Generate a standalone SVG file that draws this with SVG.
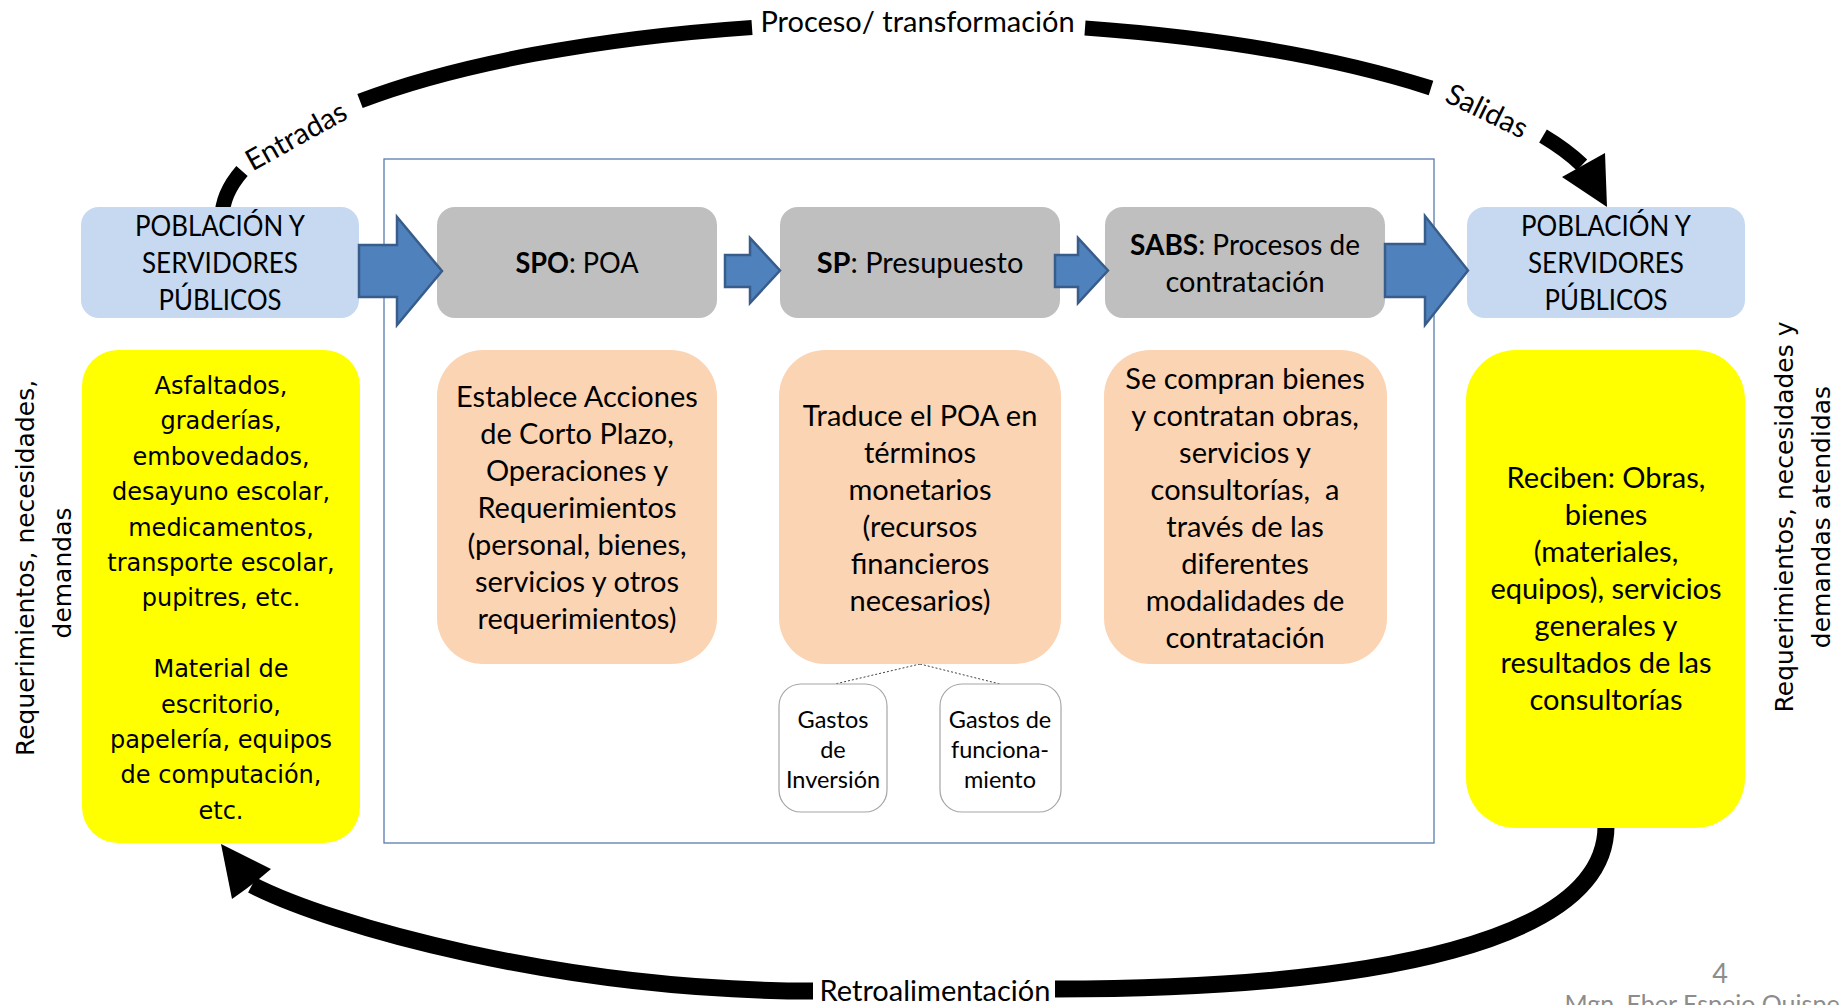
<svg xmlns="http://www.w3.org/2000/svg" width="1847" height="1005" viewBox="0 0 1847 1005">
<style>
.c{font-family:Lato,"Liberation Sans",sans-serif;font-size:29px;fill:#000;text-anchor:middle}
.s{font-family:Lato,"Liberation Sans",sans-serif;font-size:23.5px;fill:#000;text-anchor:middle}
.v{font-family:"DejaVu Sans",Verdana,sans-serif;font-size:24px;fill:#000;text-anchor:middle}
.r{font-family:"DejaVu Sans",Verdana,sans-serif;font-size:25px;fill:#000;text-anchor:middle}
.b{font-weight:bold}
.blue{fill:#c6d9f1}
.gray{fill:#bfbfbf}
.peach{fill:#fbd4b4}
.yel{fill:#ffff00}
.small{fill:#fff;stroke:#a6a6a6;stroke-width:1.2}
.band{fill:none;stroke:#000;stroke-linecap:butt}
.barrow{fill:#4f81bd;stroke:#385d8a;stroke-width:2.5;stroke-linejoin:miter}
.gr{font-family:Lato,"Liberation Sans",sans-serif;fill:#8c8c8c;text-anchor:middle}
</style>

<rect id="frame" x="384" y="159" width="1050" height="684" fill="none" stroke="#5a7bb0" stroke-width="1.3"/>

<g id="connectors">
  <path class="band" stroke-width="15" d="M222 218 A692 196 0 0 1 242 171"/>
  <path class="band" stroke-width="15" d="M360 101 A692 196 0 0 1 752 27.4"/>
  <path class="band" stroke-width="15" d="M1085 28 A692 196 0 0 1 1431 88"/>
  <path class="band" stroke-width="15" d="M1543 136 A692 196 0 0 1 1582 165"/>
  <polygon points="1562,177 1605,153 1607,207" fill="#000"/>
  <text class="c" transform="translate(296,136) rotate(-29)" y="10">Entradas</text>
  <text class="c" x="917.5" y="32">Proceso/ transformación</text>
  <text class="c" transform="translate(1487,111) rotate(26)" y="10">Salidas</text>

  <path class="band" stroke-width="17" d="M1606 826 C1606 940 1380 989 1055 989"/>
  <path class="band" stroke-width="17" d="M813 991 C560 991 330 925 252 885"/>
  <polygon points="221,844 271,869 259,879 246,889 232,899" fill="#000"/>
  <text class="c" x="935" y="1001">Retroalimentación</text>

  <path d="M920 664 L835 684 M920 664 L1000 684" stroke="#404040" stroke-width="1" stroke-dasharray="2,2" fill="none"/>
</g>

<g id="node-poblacion-in">
  <rect class="blue" x="81" y="207" width="278" height="111" rx="18"/>
  <text class="c" x="220" y="236" textLength="170" lengthAdjust="spacingAndGlyphs">POBLACIÓN Y</text>
  <text class="c" x="220" y="273" textLength="156" lengthAdjust="spacingAndGlyphs">SERVIDORES</text>
  <text class="c" x="220" y="310" textLength="123" lengthAdjust="spacingAndGlyphs">PÚBLICOS</text>
</g>

<g id="node-spo">
  <rect class="gray" x="437" y="207" width="280" height="111" rx="18"/>
  <text class="c" x="577" y="273" textLength="123" lengthAdjust="spacingAndGlyphs"><tspan class="b">SPO</tspan>: POA</text>
</g>

<g id="node-sp">
  <rect class="gray" x="780" y="207" width="280" height="111" rx="18"/>
  <text class="c" x="920" y="273"><tspan class="b">SP</tspan>: Presupuesto</text>
</g>

<g id="node-sabs">
  <rect class="gray" x="1105" y="207" width="280" height="111" rx="18"/>
  <text class="c" x="1245" y="255" textLength="230" lengthAdjust="spacingAndGlyphs"><tspan class="b">SABS</tspan>: Procesos de</text>
  <text class="c" x="1245" y="292">contratación</text>
</g>

<g id="node-poblacion-out">
  <rect class="blue" x="1467" y="207" width="278" height="111" rx="18"/>
  <text class="c" x="1606" y="236" textLength="170" lengthAdjust="spacingAndGlyphs">POBLACIÓN Y</text>
  <text class="c" x="1606" y="273" textLength="156" lengthAdjust="spacingAndGlyphs">SERVIDORES</text>
  <text class="c" x="1606" y="310" textLength="123" lengthAdjust="spacingAndGlyphs">PÚBLICOS</text>
</g>

<g id="block-arrows">
  <polygon class="barrow" points="359,245 397,245 397,217 442,271 397,325 397,297 359,297"/>
  <polygon class="barrow" points="725,255 750,255 750,238 780,270.5 750,303 750,287 725,287"/>
  <polygon class="barrow" points="1055,255 1078,255 1078,238 1108,270.5 1078,303 1078,287 1055,287"/>
  <polygon class="barrow" points="1385,244 1425,244 1425,216 1468,270.5 1425,325 1425,297 1385,297"/>
</g>

<g id="node-demandas">
  <rect class="yel" x="82" y="350" width="278" height="493" rx="36"/>
  <text class="v" x="221" y="394">Asfaltados,</text>
  <text class="v" x="221" y="429">graderías,</text>
  <text class="v" x="221" y="465">embovedados,</text>
  <text class="v" x="221" y="500">desayuno escolar,</text>
  <text class="v" x="221" y="536">medicamentos,</text>
  <text class="v" x="221" y="571">transporte escolar,</text>
  <text class="v" x="221" y="606">pupitres, etc.</text>
  <text class="v" x="221" y="677">Material de</text>
  <text class="v" x="221" y="713">escritorio,</text>
  <text class="v" x="221" y="748">papelería, equipos</text>
  <text class="v" x="221" y="783">de computación,</text>
  <text class="v" x="221" y="819">etc.</text>
</g>

<g id="node-poa-desc">
  <rect class="peach" x="437" y="350" width="280" height="314" rx="46"/>
  <text class="c" x="577" y="407">Establece Acciones</text>
  <text class="c" x="577" y="444">de Corto Plazo,</text>
  <text class="c" x="577" y="481">Operaciones y</text>
  <text class="c" x="577" y="518">Requerimientos</text>
  <text class="c" x="577" y="555">(personal, bienes,</text>
  <text class="c" x="577" y="592">servicios y otros</text>
  <text class="c" x="577" y="629">requerimientos)</text>
</g>

<g id="node-presupuesto-desc">
  <rect class="peach" x="779" y="350" width="282" height="314" rx="46"/>
  <text class="c" x="920" y="426">Traduce el POA en</text>
  <text class="c" x="920" y="463">términos</text>
  <text class="c" x="920" y="500">monetarios</text>
  <text class="c" x="920" y="537">(recursos</text>
  <text class="c" x="920" y="574">financieros</text>
  <text class="c" x="920" y="611">necesarios)</text>
</g>

<g id="node-contratacion-desc">
  <rect class="peach" x="1104" y="350" width="283" height="314" rx="46"/>
  <text class="c" x="1245" y="389">Se compran bienes</text>
  <text class="c" x="1245" y="426">y contratan obras,</text>
  <text class="c" x="1245" y="463">servicios y</text>
  <text class="c" x="1245" y="500" xml:space="preserve">consultorías,  a</text>
  <text class="c" x="1245" y="537">través de las</text>
  <text class="c" x="1245" y="574">diferentes</text>
  <text class="c" x="1245" y="611">modalidades de</text>
  <text class="c" x="1245" y="648">contratación</text>
</g>

<g id="node-gastos-inversion">
  <rect class="small" x="779" y="684" width="108" height="128" rx="22"/>
  <text class="s" x="833" y="728">Gastos</text>
  <text class="s" x="833" y="758">de</text>
  <text class="s" x="833" y="788">Inversión</text>
</g>

<g id="node-gastos-funcionamiento">
  <rect class="small" x="940" y="684" width="121" height="128" rx="22"/>
  <text class="s" x="1000" y="728">Gastos de</text>
  <text class="s" x="1000" y="758">funciona-</text>
  <text class="s" x="1000" y="788">miento</text>
</g>

<g id="node-reciben">
  <rect class="yel" x="1466" y="350" width="279" height="478" rx="50"/>
  <text class="c" x="1606" y="488">Reciben: Obras,</text>
  <text class="c" x="1606" y="525">bienes</text>
  <text class="c" x="1606" y="562">(materiales,</text>
  <text class="c" x="1606" y="599">equipos), servicios</text>
  <text class="c" x="1606" y="636">generales y</text>
  <text class="c" x="1606" y="673">resultados de las</text>
  <text class="c" x="1606" y="710">consultorías</text>
</g>

<g id="side-labels">
  <text class="r" transform="translate(34,568) rotate(-90)">Requerimientos, necesidades,</text>
  <text class="r" transform="translate(71,573) rotate(-90)">demandas</text>
  <text class="r" transform="translate(1793,517) rotate(-90)">Requerimientos, necesidades y</text>
  <text class="r" transform="translate(1830,517) rotate(-90)">demandas atendidas</text>
</g>

<g id="footer">
  <text class="gr" x="1720" y="983" font-size="27">4</text>
  <text class="gr" x="1702" y="1013" font-size="25">Mgn. Eber Espejo Quispe</text>
</g>
</svg>
